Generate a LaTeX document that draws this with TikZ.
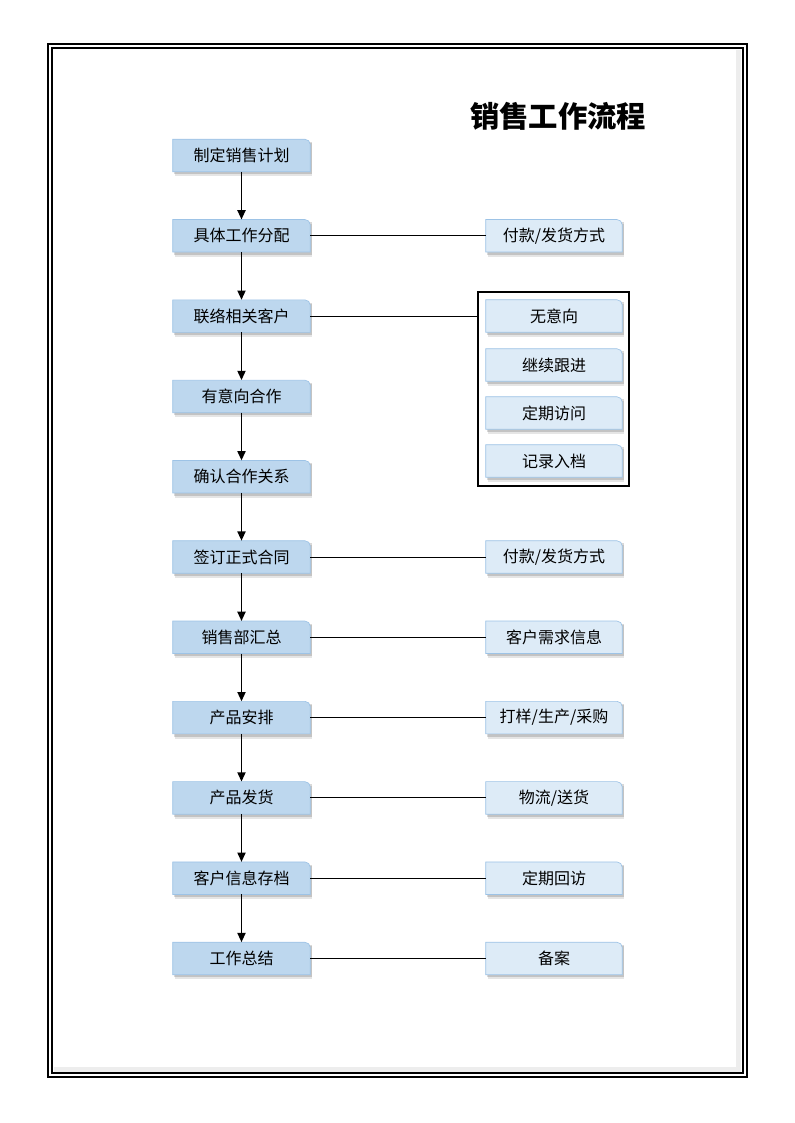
\documentclass[tikz,border=0pt]{standalone}
\usepackage{fontspec}
\setmainfont{Noto Sans CJK SC}
\newfontfamily\cjk{Noto Sans CJK SC}
\usetikzlibrary{arrows.meta,backgrounds}
\tikzset{
  x=0.75pt,y=-0.75pt,
  base/.style={inner sep=0pt,minimum height=24pt,font=\cjk\fontsize{12pt}{14pt}\selectfont,text=black},
  lbox/.style={base,minimum width=102.75pt},
  rbox/.style={base,minimum width=102pt},
  flow/.style={line width=1.4pt,-{Triangle[length=7pt,width=6pt]}},
  link/.style={line width=0.7pt},
  frame/.style={line width=1.4pt},
}
\colorlet{lfill}{rgb,255:red,189;green,215;blue,238}
\colorlet{ldraw}{rgb,255:red,157;green,195;blue,230}
\colorlet{rfill}{rgb,255:red,221;green,235;blue,247}
\colorlet{rdraw}{rgb,255:red,157;green,195;blue,230}
\newcommand\shapeof[3]{%
  \begin{pgfonlayer}{background}
    \fill[black,opacity=0.10] ([shift={(1.5pt,-3.5pt)}]#1.south west) rectangle ([shift={(1.5pt,-3pt)}]#1.north east);
    \fill[black,opacity=0.15] ([shift={(1pt,-2pt)}]#1.south west) rectangle ([shift={(1pt,-2pt)}]#1.north east);
    \filldraw[fill=#2,draw=#3,line width=0.5pt] (#1.south west) -- (#1.north west) -- ([xshift=-4pt]#1.north east) to[out=0,in=90] ([yshift=-4pt]#1.north east) -- (#1.south east) -- cycle;
  \end{pgfonlayer}}
\begin{document}
\begin{tikzpicture}
\useasboundingbox (0,0) rectangle (794,1123);
% page frame
\draw[frame] (48,44) rectangle (747,1077);
\draw[frame] (52,48) rectangle (743,1073);
\begin{pgfonlayer}{background}
\fill[black!7] (54,1067) rectangle (741,1072);
\fill[black!7] (736,50) rectangle (741,1072);
\end{pgfonlayer}
% title
\node[font=\cjk\bfseries\fontsize{22pt}{26pt}\selectfont] (title) at (558,116) {销售工作流程};
% left column
\foreach \i/\t in {1/制定销售计划,2/具体工作分配,3/联络相关客户,4/有意向合作,5/确认合作关系,6/签订正式合同,7/销售部汇总,8/产品安排,9/产品发货,10/客户信息存档,11/工作总结}{
  \node[lbox] (L\i) at (241.5,{155.5+80.3*(\i-1)}) {\t};
  \shapeof{L\i}{lfill}{ldraw}
}
\foreach \i [evaluate=\i as \j using int(\i+1)] in {1,...,10}{
  \draw[flow] (L\i.south) -- (L\j.north);
}
% right column
\foreach \i/\t in {2/{付款/发货方式},6/{付款/发货方式},7/{客户需求信息},8/{打样/生产/采购},9/{物流/送货},10/{定期回访},11/{备案}}{
  \node[rbox] (R\i) at (554,{155.5+80.3*(\i-1)}) {\t};
  \shapeof{R\i}{rfill}{rdraw}
  \draw[link] (L\i.east) -- (R\i.west);
}
% group
\node[draw,line width=0.8pt,minimum width=113.25pt,minimum height=145.5pt,inner sep=0pt] (grp) at (553.5,389) {};
\foreach \k/\y/\t in {a/316/无意向,b/365/继续跟进,c/413/定期访问,d/461/记录入档}{
  \node[rbox] (G\k) at (554,\y) {\t};
  \shapeof{G\k}{rfill}{rdraw}
}
\draw[link] (L3.east) -- (L3.east -| grp.west);
\end{tikzpicture}
\end{document}
